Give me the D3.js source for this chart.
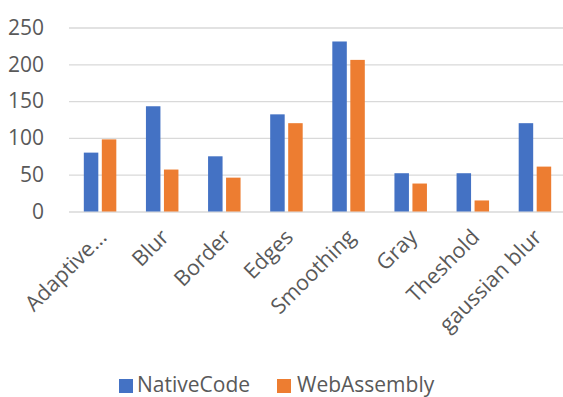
<!DOCTYPE html>
<html>
<head>
<meta charset="utf-8">
<script src="https://cdn.jsdelivr.net/npm/d3@7/dist/d3.min.js"></script>
<style>
  html, body { margin: 0; padding: 0; background: #fff; }
  svg { display: block; font-family: "Open Sans", "Liberation Sans", sans-serif; }
</style>
</head>
<body>
<svg id="chart" width="563" height="397"></svg>
<script>
// Filter benchmark: native code vs WebAssembly
const categories = ["Adaptive...", "Blur", "Border", "Edges", "Smoothing", "Gray", "Theshold", "gaussian blur"];
const seriesNames = ["NativeCode", "WebAssembly"];
const nativeValues = [80, 143, 75, 132, 231, 52, 52, 120];
const wasmValues = [98, 57, 46, 120, 206, 38, 15, 61];
const yTicks = [0, 50, 100, 150, 200, 250];
const colors = ["#4472C4", "#ED7D31"];

const svg = d3.select("#chart");
const plot = { left: 69, right: 566, top: 27.5, bottom: 211.5 };

const x0 = d3.scaleBand().domain(categories).range([plot.left, plot.right]).paddingInner(0).paddingOuter(0);
const barW = 14.5, innerGap = 3.5;
const y = d3.scaleLinear().domain([0, 250]).range([plot.bottom, plot.top]);

// gridlines + tick labels
const yAxis = d3.axisLeft(y).tickValues(yTicks).tickSize(-(plot.right - plot.left)).tickPadding(25);
const gy = svg.append("g").attr("transform", `translate(${plot.left},0)`).call(yAxis);
gy.select(".domain").remove();
gy.selectAll(".tick line").attr("stroke", "#d9d9d9").attr("stroke-width", 1.3);
gy.selectAll(".tick text").attr("fill", "#595959").style("font-size", "21px")
  .style("font-family", "'Open Sans', sans-serif");

// bars
const rows = categories.map((c, i) => ({ cat: c, vals: [nativeValues[i], wasmValues[i]] }));
const groups = svg.append("g").selectAll("g").data(rows).join("g")
  .attr("transform", d => `translate(${x0(d.cat) + x0.bandwidth() / 2},0)`);
groups.selectAll("rect").data(d => d.vals.map((v, k) => ({ v, k }))).join("rect")
  .attr("x", d => d.k === 0 ? -barW - innerGap / 2 : innerGap / 2)
  .attr("width", barW)
  .attr("y", d => y(d.v))
  .attr("height", d => y(0) - y(d.v))
  .attr("fill", d => colors[d.k]);

// category labels, rotated
const xAxis = d3.axisBottom(x0).tickSize(0).tickPadding(0);
const gx = svg.append("g").attr("transform", `translate(0,${plot.bottom})`).call(xAxis);
gx.select(".domain").remove();
gx.selectAll(".tick text")
  .attr("fill", "#595959").style("font-size", "21.5px")
  .style("font-family", "'Open Sans', sans-serif")
  .attr("text-anchor", "end")
  .attr("dy", null).attr("y", null)
  .attr("transform", "translate(8,27) rotate(-45)");

// legend
const legend = svg.append("g").attr("transform", "translate(0,386)");
const legendX = [119, 277];
const legendTextOffset = [18, 20];
seriesNames.forEach((name, k) => {
  legend.append("rect").attr("x", legendX[k]).attr("y", -7).attr("width", 14).attr("height", 14).attr("fill", colors[k]);
  legend.append("text").attr("x", legendX[k] + legendTextOffset[k]).attr("y", 5.5)
    .attr("fill", "#595959").style("font-size", "21px").text(name);
});
</script>
</body>
</html>
